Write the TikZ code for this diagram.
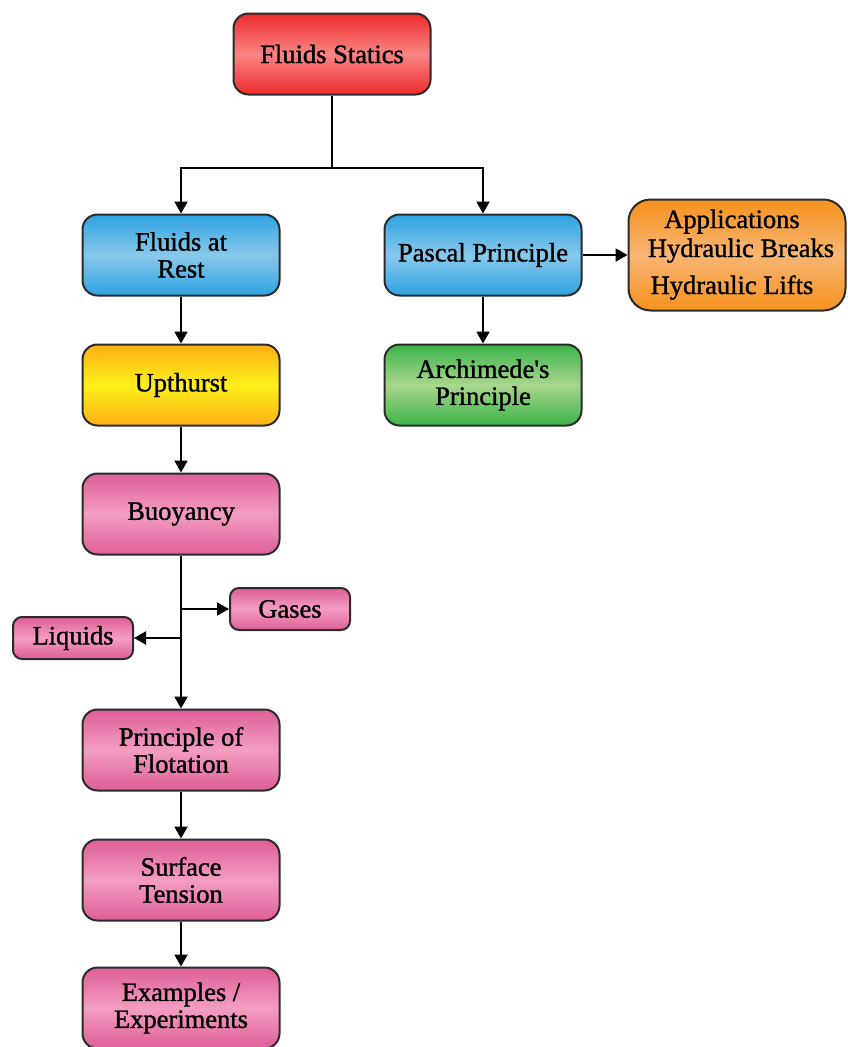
\documentclass[tikz,border=0pt]{standalone}
\usepackage{fontspec}
\setmainfont{Liberation Serif}
\newfontfamily\labfont[FakeBold=1.2]{Liberation Serif}
\usetikzlibrary{arrows.meta}
\definecolor{redT}{HTML}{EE2B2B}\definecolor{redM}{HTML}{FA8484}
\definecolor{bluT}{HTML}{2EA2E2}\definecolor{bluM}{HTML}{88C9EB}
\definecolor{yelT}{HTML}{FCAF17}\definecolor{yelM}{HTML}{FFF01A}
\definecolor{pinT}{HTML}{DD5F97}\definecolor{pinM}{HTML}{F49DC2}
\definecolor{grnT}{HTML}{3BB44A}\definecolor{grnM}{HTML}{A8D68C}
\definecolor{orgT}{HTML}{F6921E}\definecolor{orgM}{HTML}{F8B574}
\definecolor{edge}{HTML}{2B2B2B}
\tikzset{
  lab/.style={font=\labfont\fontsize{26.5}{27}\selectfont},
  box/.style={draw=edge, line width=2pt, rounded corners=15pt, inner sep=2pt,
    minimum width=197pt, minimum height=81pt, align=center, lab},
  smallbox/.style={box, rounded corners=9pt, minimum width=120pt, minimum height=42pt},
  redbox/.style={top color=redT, bottom color=redT, middle color=redM},
  bluebox/.style={top color=bluT, bottom color=bluT, middle color=bluM},
  yellowbox/.style={top color=yelT, bottom color=yelT, middle color=yelM},
  pinkbox/.style={top color=pinT, bottom color=pinT, middle color=pinM},
  greenbox/.style={top color=grnT, bottom color=grnT, middle color=grnM},
  orangebox/.style={top color=orgT, bottom color=orgT, middle color=orgM},
  conn/.style={line width=2pt, -{Triangle[length=12pt,width=13pt]}},
  plain/.style={line width=2pt}
}
\begin{document}
\begin{tikzpicture}[x=1pt,y=-1pt]
\useasboundingbox (0,0) rectangle (847,1047);
\node[box,redbox] (fs) at (332,54) {Fluids Statics};
\node[box,bluebox] (rest) at (181,255) {Fluids at\\Rest};
\node[box,bluebox] (pascal) at (483,255) {Pascal Principle};
\node[box,orangebox,minimum width=217pt,minimum height=111pt,rounded corners=22pt] (app) at (737,255) {};
\node[lab,anchor=base,inner sep=0pt] (app1) at (732,228) {Applications};
\node[lab,anchor=base,inner sep=0pt] (app2) at (741,257) {Hydraulic Breaks};
\node[lab,anchor=base,inner sep=0pt] (app3) at (732,294) {Hydraulic Lifts};
\node[box,greenbox] (arch) at (483,385) {Archimede\textquotesingle s\\Principle};
\node[box,yellowbox] (up) at (181,385) {Upthurst};
\node[box,pinkbox] (buoy) at (181,514) {Buoyancy};
\node[smallbox,pinkbox] (gases) at (290,609) {Gases};
\node[smallbox,pinkbox] (liq) at (73,638) {Liquids};
\node[box,pinkbox] (flot) at (181,750) {Principle of\\Flotation};
\node[box,pinkbox] (surf) at (181,880) {Surface\\Tension};
\node[box,pinkbox] (ex) at (181,1008) {Examples /\\Experiments};
\coordinate (j) at (332,168);
\coordinate (jg) at (buoy.south |- gases.west);
\coordinate (jl) at (buoy.south |- liq.east);
\draw[plain] (fs.south) -- (j);
\draw[conn] (j) -| (rest.north);
\draw[conn] (j) -| (pascal.north);
\draw[conn] (pascal.east) -- (app.west);
\draw[conn] (pascal.south) -- (arch.north);
\draw[conn] (rest.south) -- (up.north);
\draw[conn] (up.south) -- (buoy.north);
\draw[conn] (buoy.south) -- (flot.north);
\draw[conn] (jg) -- (gases.west);
\draw[conn] (jl) -- (liq.east);
\draw[conn] (flot.south) -- (surf.north);
\draw[conn] (surf.south) -- (ex.north);
\end{tikzpicture}
\end{document}
